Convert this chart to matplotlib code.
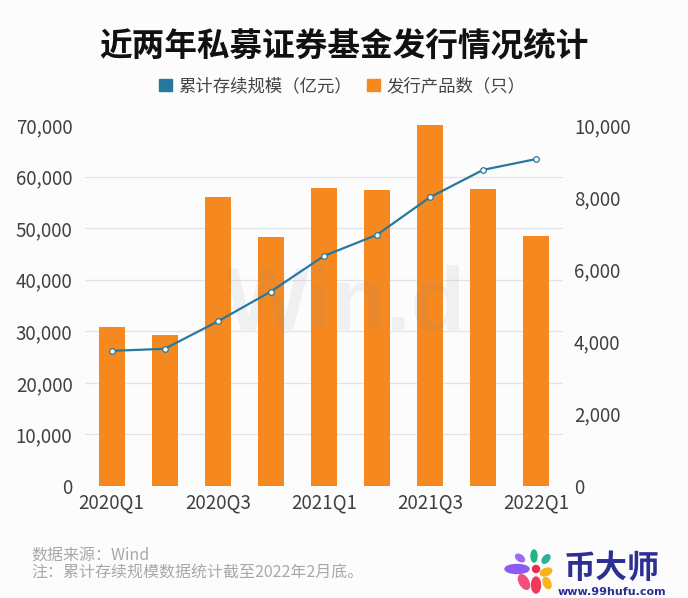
import numpy as np
import matplotlib.pyplot as plt
from matplotlib.patches import Ellipse, Rectangle

plt.rcParams['font.family'] = ['Noto Sans CJK SC', 'DejaVu Sans']

quarters = ['2020Q1', '2020Q2', '2020Q3', '2020Q4', '2021Q1',
            '2021Q2', '2021Q3', '2021Q4', '2022Q1']
# 累计存续规模（亿元）, left axis
scale = [26200, 26600, 31900, 37700, 44600, 48700, 56000, 61300, 63400]
# 发行产品数（只）, right axis
issued = [4410, 4180, 8000, 6890, 8250, 8200, 9990, 8220, 6920]

left_ticks = [0, 10000, 20000, 30000, 40000, 50000, 60000, 70000]
right_ticks = [0, 2000, 4000, 6000, 8000, 10000]
shown_labels = ['2020Q1', '2020Q3', '2021Q1', '2021Q3', '2022Q1']

bg = '#fcfcfd'
orange = '#f5891f'
blue = '#27789e'
tick_color = '#404040'

fig = plt.figure(figsize=(6.88, 5.98), dpi=100, facecolor=bg)
ax2 = fig.add_axes([0.1235, 0.1873, 0.6945, 0.6037])  # bars, right scale
ax = ax2.twinx()                                      # line, left scale
ax.set_zorder(ax2.get_zorder() + 1)
ax.patch.set_visible(False)
ax2.set_facecolor(bg)

x = np.arange(len(quarters))

# bars
ax2.bar(x, issued, width=0.49, color=orange, zorder=2)
ax2.set_ylim(0, 10000)
ax2.set_xlim(-0.5, len(quarters) - 0.5)
ax2.yaxis.tick_right()
ax2.set_yticks(right_ticks)
ax2.set_yticklabels(['{:,}'.format(v) for v in right_ticks])
# grid follows the left axis ticks
ax2.set_yticks(np.array(left_ticks) * 10000 / 70000, minor=True)
ax2.grid(True, which='minor', axis='y', color='#e2e3e6', linewidth=0.9, zorder=0)
ax2.tick_params(axis='y', which='both', length=0, pad=8, labelsize=13.5,
                labelcolor=tick_color)
ax2.set_xticks([quarters.index(q) for q in shown_labels])
ax2.set_xticklabels(shown_labels)
ax2.tick_params(axis='x', length=0, pad=5, labelsize=13.5, labelcolor=tick_color)

# watermark
ax2.text(4.41, 4321, 'Win.d', fontsize=64, fontweight='bold', color='#8a8f99',
         alpha=0.11, ha='center', va='baseline', family='Liberation Sans', zorder=3)

# line
ax.plot(x, scale, color=blue, linewidth=1.6, marker='o', markersize=4,
        markerfacecolor='white', markeredgecolor=blue, markeredgewidth=0.9, zorder=4)
ax.set_ylim(0, 70000)
ax.yaxis.tick_left()
ax.set_yticks(left_ticks)
ax.set_yticklabels(['{:,}'.format(v) for v in left_ticks])
ax.tick_params(axis='y', length=0, pad=9, labelsize=13.5, labelcolor=tick_color)

for a in (ax, ax2):
    for s in a.spines.values():
        s.set_visible(False)

# title and legend
fig.text(0.5, 1 - 46 / 598, '近两年私募证券基金发行情况统计', ha='center', va='center',
         fontsize=23.5, fontweight='bold', color='#111111')
handles = [Rectangle((0, 0), 1, 1, color=blue), Rectangle((0, 0), 1, 1, color=orange)]
fig.legend(handles, ['累计存续规模（亿元）', '发行产品数（只）'], loc='center',
           bbox_to_anchor=(0.497, 1 - 86 / 598), ncol=2, frameon=False, fontsize=12.5,
           handlelength=0.75, handleheight=0.75, handletextpad=0.35, columnspacing=0.9,
           labelcolor='#444444')

# notes
fig.text(31 / 688, 1 - 556 / 598, '数据来源：Wind', fontsize=11.5, color='#a8a8a8',
         va='center')
fig.text(31 / 688, 1 - 573 / 598, '注：累计存续规模数据统计截至2022年2月底。',
         fontsize=11.5, color='#a8a8a8', va='center')

# logo
lax = fig.add_axes([0, 0, 1, 1], zorder=-1)
lax.set_xlim(0, 688)
lax.set_ylim(598, 0)
lax.axis('off')
petals = [
    (517, 569, 24, 9, 0, '#8a5cf0'),
    (520, 558, 10, 6, 35, '#9b6cf2'),
    (534, 556, 6, 12, 0, '#1fb57e'),
    (546, 559, 6, 10, 40, '#2bb39a'),
    (546, 572, 12, 7, -20, '#f7b21c'),
    (547, 583, 7, 12, -25, '#f9b61b'),
    (536, 585, 9, 16, 0, '#ef3a59'),
    (524, 582, 9, 16, -30, '#f0507a'),
]
for px, py, w, h, ang, c in petals:
    lax.add_patch(Ellipse((px, py), w, h, angle=ang, color=c))
lax.add_patch(Ellipse((536, 569), 7, 7, color='#ee2d4b'))
lax.text(612, 569, '币大师', fontsize=23, fontweight='bold', color='#2d2f92',
         ha='center', va='center')
lax.text(612, 592, 'www.99hufu.com', fontsize=8, fontweight='bold', color='#2d2f92',
         ha='center', va='center', family='DejaVu Sans')

fig.savefig('out.png', dpi=100, facecolor=bg)
